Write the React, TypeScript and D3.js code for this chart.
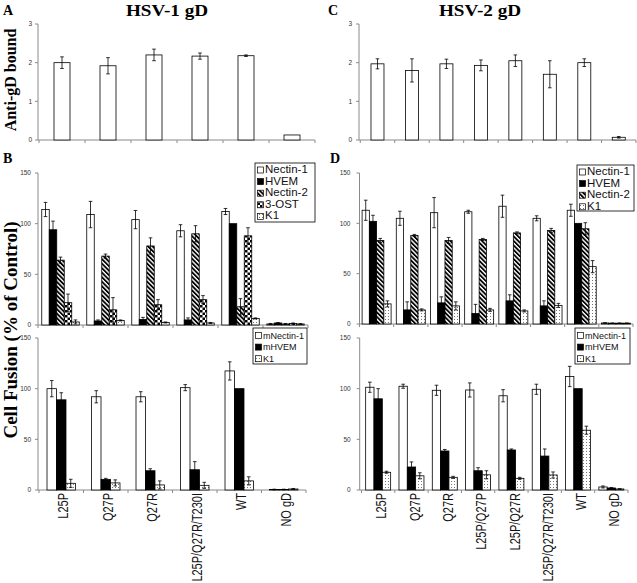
import React from "react";
import * as d3 from "d3";

// ---------- DATA ----------
const hsv1Categories = ["L25P", "Q27P", "Q27R", "L25P/Q27R/T230I", "WT", "NO gD"];
const hsv2Categories = ["L25P", "Q27P", "Q27R", "L25P/Q27P", "L25P/Q27R", "L25P/Q27R/T230I", "WT", "NO gD"];

const boundTicks = [0, 1, 2, 3];
const fusionTicks = [0, 50, 100, 150];

// Panel A / C: anti-gD bound
const hsv1Bound = [2.0, 1.92, 2.2, 2.17, 2.18, 0.13];
const hsv1BoundErr = [0.15, 0.21, 0.15, 0.08, 0.02, 0];
const hsv2Bound = [1.97, 1.8, 1.97, 1.93, 2.05, 1.7, 2.0, 0.07];
const hsv2BoundErr = [0.13, 0.3, 0.12, 0.14, 0.15, 0.35, 0.1, 0.02];

// Panel B top: human receptors (HSV-1)
const hsv1HumanSeries = ["Nectin-1", "HVEM", "Nectin-2", "3-OST", "K1"];
const b_Nectin1 = [114, 109, 104, 93, 112, 1];
const b_Nectin1Err = [7, 13, 9, 6, 3, 0.5];
const b_HVEM = [94, 4, 5.5, 5, 100, 2];
const b_HVEMErr = [8.5, 1, 2, 2, 0, 0.5];
const b_Nectin2 = [64, 68, 78, 90, 18, 1];
const b_Nectin2Err = [3, 2, 8, 8, 8, 0.5];
const b_3OST = [22, 15, 20, 25, 88, 1.5];
const b_3OSTErr = [8.5, 12, 5, 4, 8, 0.5];
const b_K1 = [3, 4.5, 2.5, 2, 6.5, 1];
const b_K1Err = [2, 0.5, 0.5, 0.5, 0.5, 0.3];

// Panel D top: human receptors (HSV-2)
const hsv2HumanSeries = ["Nectin-1", "HVEM", "Nectin-2", "K1"];
const d_Nectin1 = [113, 105, 110.6, 111.5, 117, 105, 113, 1];
const d_Nectin1Err = [10, 7, 15, 1.5, 11, 2.5, 6, 0.3];
const d_HVEM = [102, 14, 21, 10.5, 23, 18, 100, 0.8];
const d_HVEMErr = [6, 8, 6, 9, 6, 5, 0, 0.2];
const d_Nectin2 = [83, 88, 83, 84, 90.5, 93, 94.6, 0.8];
const d_Nectin2Err = [2, 1, 3, 1, 1, 2, 6, 0.2];
const d_K1 = [20, 14, 18, 14, 13, 18.5, 57, 0.8];
const d_K1Err = [3, 1, 4, 1.5, 1, 2, 6, 0.2];

// Bottom panels: mouse receptors
const mouseSeries = ["mNectin-1", "mHVEM", "K1"];
const e_mNectin1 = [100, 92, 92, 101, 117.5, 0.5];
const e_mNectin1Err = [8, 6, 5, 3, 9, 0.3];
const e_mHVEM = [89, 10.5, 19, 20, 100, 0.5];
const e_mHVEMErr = [7, 1, 2, 8, 0, 0.3];
const e_K1 = [6.6, 7, 5, 4.6, 9, 1];
const e_K1Err = [4, 3, 4, 3, 4, 0.5];

const f_mNectin1 = [101.4, 102.4, 98.4, 98.7, 93, 99.4, 112, 3];
const f_mNectin1Err = [5, 2, 5, 7, 6, 5, 10, 1];
const f_mHVEM = [90, 22.7, 38.5, 19, 39.5, 33.5, 100, 2];
const f_mHVEMErr = [10, 5, 1.5, 3, 1, 7, 0, 0.5];
const f_K1 = [17.5, 14, 12.5, 15, 11.5, 14.8, 59, 1];
const f_K1Err = [1, 3, 1, 4, 1, 3, 4, 0.3];

// ---------- STYLE ----------
const FILLS: Record<string, string> = {
  "Nectin-1": "#fff",
  HVEM: "#000",
  "Nectin-2": "url(#stripes)",
  "3-OST": "url(#checks)",
  K1: "url(#dots)",
  "mNectin-1": "#fff",
  mHVEM: "#000",
};

const AXIS = "#8a8a8a";
const SANS = "'Liberation Sans', Arial, sans-serif";
const SERIF = "'Liberation Serif', 'Times New Roman', serif";

type PanelProps = {
  categories: string[];
  series: string[];
  values: number[][];
  errors: number[][];
  axisX: number;
  x0: number;
  x1: number;
  pad: number;
  yZero: number;
  yTop: number;
  yMax: number;
  ticks: number[];
  labelGap: number;
};

function Panel(p: PanelProps) {
  const x = d3
    .scaleBand<string>()
    .domain(p.categories)
    .range([p.x0, p.x1])
    .paddingInner(p.pad)
    .paddingOuter(p.pad / 2);
  const xs = d3.scaleBand<string>().domain(p.series).range([0, x.bandwidth()]);
  const y = d3.scaleLinear().domain([0, p.yMax]).range([p.yZero, p.yTop]);
  const step = x.step();
  const bounds = d3.range(p.categories.length + 1).map((i) => p.x0 + i * step);
  return (
    <g>
      <line x1={p.axisX} x2={p.axisX} y1={y(0)} y2={y(p.yMax)} stroke={AXIS} strokeWidth={1} />
      {p.ticks.map((t) => (
        <g key={t}>
          <line x1={p.axisX - 3} x2={p.axisX} y1={y(t)} y2={y(t)} stroke={AXIS} strokeWidth={1} />
          <text
            x={p.axisX - p.labelGap}
            y={y(t)}
            dy="0.35em"
            textAnchor="end"
            fontFamily={SANS}
            fontSize={6.5}
            fill="#333"
          >
            {t}
          </text>
        </g>
      ))}
      <line x1={p.axisX} x2={p.x1} y1={y(0)} y2={y(0)} stroke={AXIS} strokeWidth={1} />
      {bounds.map((b, i) => (
        <line key={i} x1={b} x2={b} y1={y(0)} y2={y(0) + 3} stroke={AXIS} strokeWidth={1} />
      ))}
      {p.series.map((s, si) =>
        p.categories.map((c, ci) => {
          const v = p.values[si][ci];
          const bx = (x(c) as number) + (xs(s) as number);
          const bw = xs.bandwidth();
          return (
            <rect
              key={s + c}
              x={bx}
              y={y(v)}
              width={bw}
              height={y(0) - y(v)}
              fill={FILLS[s] || "#fff"}
              stroke="#000"
              strokeWidth={0.8}
            />
          );
        })
      )}
      {p.series.map((s, si) =>
        p.categories.map((c, ci) => {
          const v = p.values[si][ci];
          const e = p.errors[si][ci];
          if (!e) return null;
          const cx = (x(c) as number) + (xs(s) as number) + xs.bandwidth() / 2;
          const lo = Math.max(0, v - e);
          const hi = v + e;
          return (
            <g key={"e" + s + c} stroke="#000" strokeWidth={0.8}>
              <line x1={cx} x2={cx} y1={y(lo)} y2={y(hi)} />
              <line x1={cx - 1.8} x2={cx + 1.8} y1={y(hi)} y2={y(hi)} />
              <line x1={cx - 1.8} x2={cx + 1.8} y1={y(lo)} y2={y(lo)} />
            </g>
          );
        })
      )}
    </g>
  );
}

function XLabels({ categories, x0, x1, yTop, shift }: { categories: string[]; x0: number; x1: number; yTop: number; shift: number }) {
  const x = d3.scaleBand<string>().domain(categories).range([x0, x1]);
  return (
    <g>
      {categories.map((c) => {
        const cx = (x(c) as number) + x.bandwidth() / 2 + shift;
        return (
          <text
            key={c}
            transform={`translate(${cx},${yTop}) scale(1.3,1) rotate(-90)`}
            textAnchor="end"
            dy="0.36em"
            fontFamily={SANS}
            fontSize={11}
            fill="#111"
          >
            {c}
          </text>
        );
      })}
    </g>
  );
}

function Legend({ x, y, w, h, items, first, gap, fontSize, sx }: { x: number; y: number; w: number; h: number; items: string[]; first: number; gap: number; fontSize: number; sx: number }) {
  return (
    <g>
      <rect x={x} y={y} width={w} height={h} fill="#fff" stroke="#000" strokeWidth={0.8} />
      {items.map((it, i) => {
        const by = y + first + i * gap;
        return (
          <g key={it}>
            <rect x={x + 2.5} y={by - 6} width={6} height={6} fill={FILLS[it]} stroke="#000" strokeWidth={0.7} />
            <text
              transform={`translate(${x + 10},${by}) scale(${sx},1)`}
              fontFamily={SANS}
              fontSize={fontSize}
              fill="#111"
            >
              {it}
            </text>
          </g>
        );
      })}
    </g>
  );
}

export default function App() {
  return (
    <svg width={637} height={583} style={{ position: "absolute", left: 0, top: 0, background: "#fff" }}>
      <defs>
        <pattern id="stripes" patternUnits="userSpaceOnUse" width={3.2} height={3.2} patternTransform="rotate(-45)">
          <rect width={3.2} height={3.2} fill="#fff" />
          <rect width={1.8} height={3.2} fill="#000" />
        </pattern>
        <pattern id="checks" patternUnits="userSpaceOnUse" width={5} height={5}>
          <rect width={5} height={5} fill="#fff" />
          <rect width={2.5} height={2.5} fill="#000" />
          <rect x={2.5} y={2.5} width={2.5} height={2.5} fill="#000" />
        </pattern>
        <pattern id="dots" patternUnits="userSpaceOnUse" width={3} height={3}>
          <rect width={3} height={3} fill="#fff" />
          <rect x={1} y={1} width={0.9} height={0.9} fill="#555" />
        </pattern>
      </defs>

      <text transform="translate(167,16) scale(1.2,1)" textAnchor="middle" fontFamily={SERIF} fontWeight="bold" fontSize={16}>
        HSV-1 gD
      </text>
      <text transform="translate(480,16) scale(1.2,1)" textAnchor="middle" fontFamily={SERIF} fontWeight="bold" fontSize={16}>
        HSV-2 gD
      </text>
      <text x={3} y={15} fontFamily={SERIF} fontWeight="bold" fontSize={14}>A</text>
      <text x={328} y={15} fontFamily={SERIF} fontWeight="bold" fontSize={14}>C</text>
      <text x={3} y={163} fontFamily={SERIF} fontWeight="bold" fontSize={14}>B</text>
      <text x={330} y={163} fontFamily={SERIF} fontWeight="bold" fontSize={14}>D</text>

      <text transform="translate(16,80) rotate(-90)" textAnchor="middle" fontFamily={SERIF} fontWeight="bold" fontSize={16}>
        Anti-gD bound
      </text>
      <text transform="translate(17,330) rotate(-90)" textAnchor="middle" fontFamily={SERIF} fontWeight="bold" fontSize={19}>
        Cell Fusion (% of Control)
      </text>

      <Panel
        categories={hsv1Categories}
        series={["bound"]}
        values={[hsv1Bound]}
        errors={[hsv1BoundErr]}
        axisX={38}
        x0={39}
        x1={315}
        pad={0.652}
        yZero={140}
        yTop={24}
        yMax={3}
        ticks={boundTicks}
        labelGap={6}
      />
      <Panel
        categories={hsv2Categories}
        series={["bound"]}
        values={[hsv2Bound]}
        errors={[hsv2BoundErr]}
        axisX={359}
        x0={360.25}
        x1={636}
        pad={0.623}
        yZero={140}
        yTop={24}
        yMax={3}
        ticks={boundTicks}
        labelGap={7}
      />

      <Panel
        categories={hsv1Categories}
        series={hsv1HumanSeries}
        values={[b_Nectin1, b_HVEM, b_Nectin2, b_3OST, b_K1]}
        errors={[b_Nectin1Err, b_HVEMErr, b_Nectin2Err, b_3OSTErr, b_K1Err]}
        axisX={38}
        x0={38}
        x1={308}
        pad={0.167}
        yZero={325}
        yTop={173}
        yMax={150}
        ticks={fusionTicks}
        labelGap={7}
      />
      <Legend x={255} y={163} w={60} h={59} items={hsv1HumanSeries} first={10} gap={11.6} fontSize={10} sx={1.15} />

      <Panel
        categories={hsv2Categories}
        series={hsv2HumanSeries}
        values={[d_Nectin1, d_HVEM, d_Nectin2, d_K1]}
        errors={[d_Nectin1Err, d_HVEMErr, d_Nectin2Err, d_K1Err]}
        axisX={359.5}
        x0={359.5}
        x1={633}
        pad={0.152}
        yZero={324}
        yTop={173}
        yMax={150}
        ticks={fusionTicks}
        labelGap={9}
      />
      <Legend x={577} y={165} w={57} h={46} items={hsv2HumanSeries} first={10} gap={11.6} fontSize={10} sx={1.15} />

      <Panel
        categories={hsv1Categories}
        series={mouseSeries}
        values={[e_mNectin1, e_mHVEM, e_K1]}
        errors={[e_mNectin1Err, e_mHVEMErr, e_K1Err]}
        axisX={38}
        x0={39}
        x1={306}
        pad={0.36}
        yZero={490}
        yTop={338}
        yMax={150}
        ticks={fusionTicks}
        labelGap={7}
      />
      <Legend x={253} y={328} w={54} h={36} items={mouseSeries} first={10.5} gap={11.6} fontSize={9} sx={1.0} />

      <Panel
        categories={hsv2Categories}
        series={mouseSeries}
        values={[f_mNectin1, f_mHVEM, f_K1]}
        errors={[f_mNectin1Err, f_mHVEMErr, f_K1Err]}
        axisX={359.7}
        x0={361.5}
        x1={628}
        pad={0.25}
        yZero={490}
        yTop={338}
        yMax={150}
        ticks={fusionTicks}
        labelGap={9}
      />
      <Legend x={575} y={328} w={55} h={36} items={mouseSeries} first={10.5} gap={11.6} fontSize={9} sx={1.0} />

      <XLabels categories={hsv1Categories} x0={39} x1={306} yTop={493} shift={2} />
      <XLabels categories={hsv2Categories} x0={361.5} x1={628} yTop={493} shift={3} />
    </svg>
  );
}
